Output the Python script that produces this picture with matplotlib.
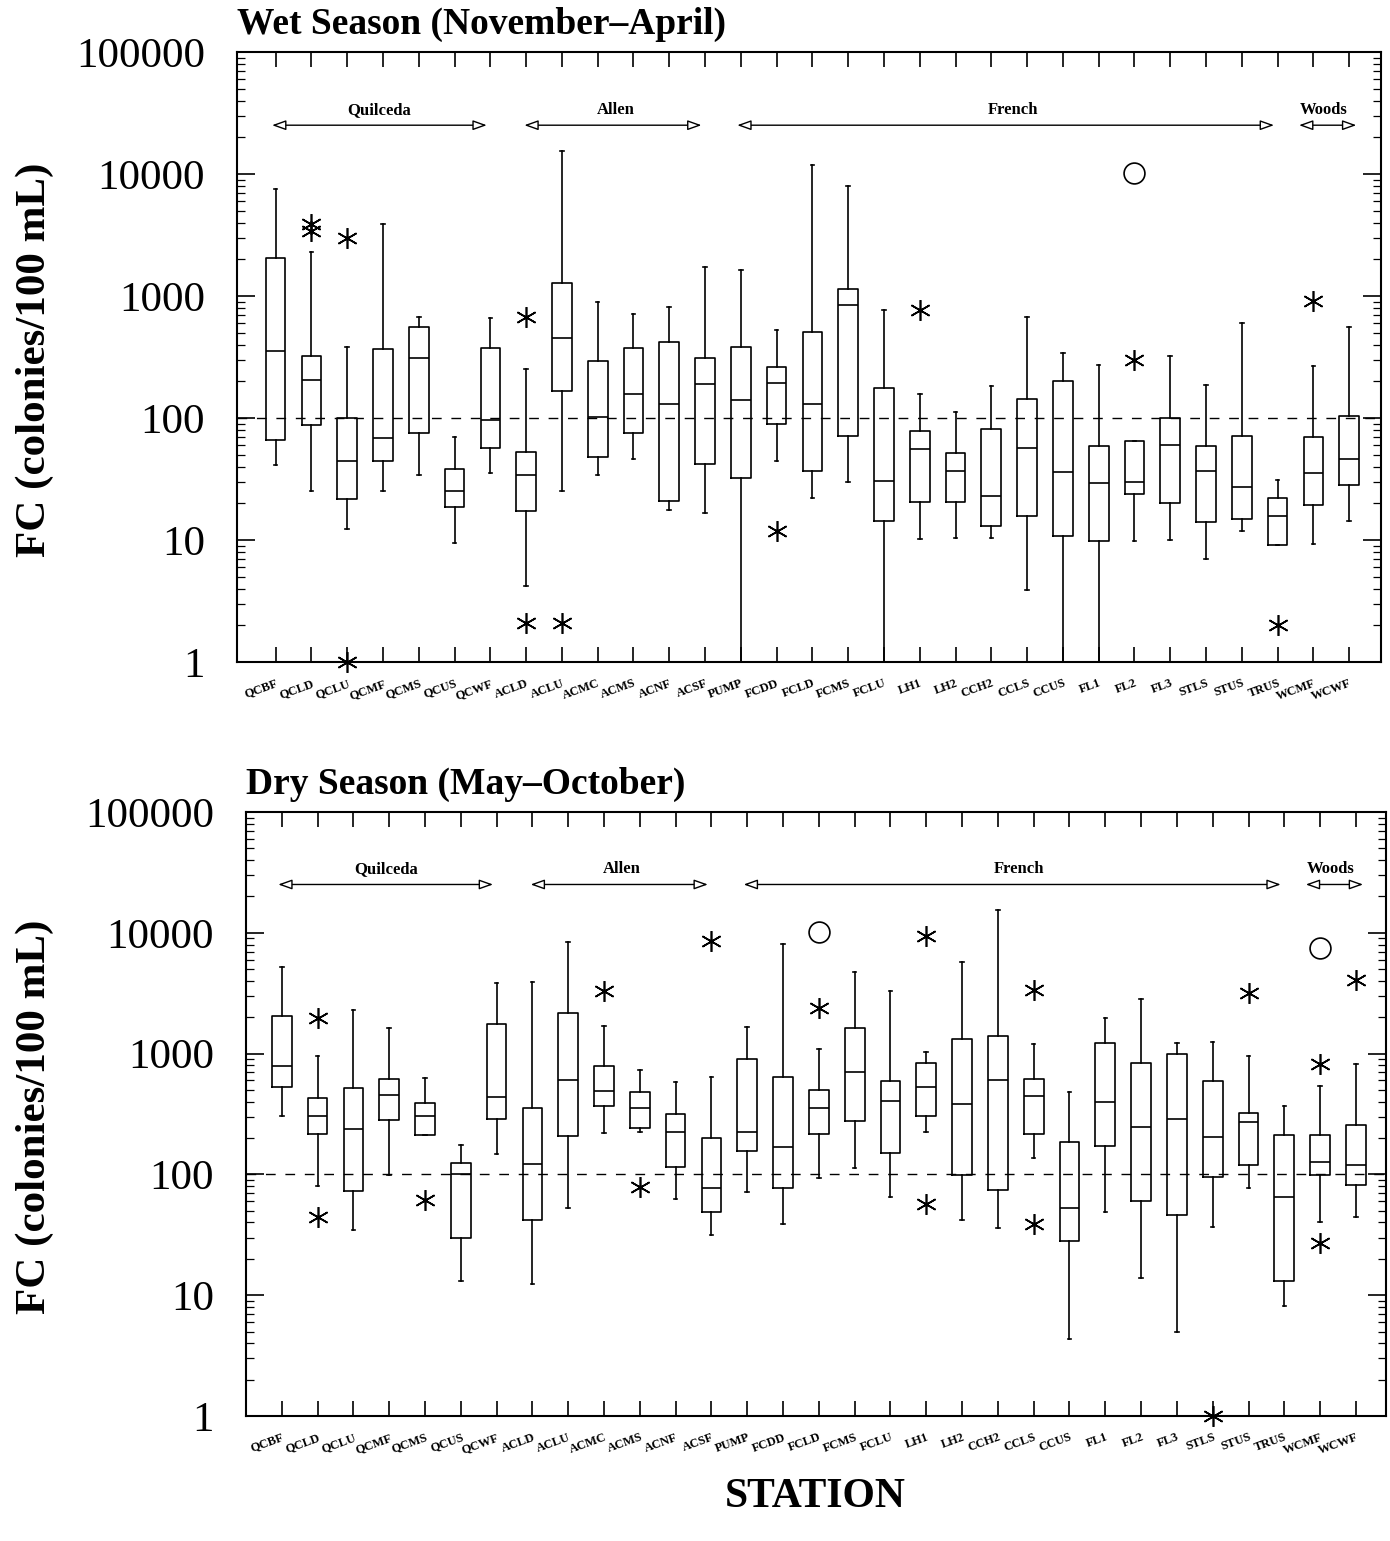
import numpy as np
import matplotlib
matplotlib.use("Agg")
import matplotlib.pyplot as plt
from matplotlib.ticker import NullFormatter

plt.rcParams["font.family"] = "Liberation Serif"

stations = ["QCBF", "QCLD", "QCLU", "QCMF", "QCMS", "QCUS", "QCWF",
            "ACLD", "ACLU", "ACMC", "ACMS", "ACNF", "ACSF", "PUMP",
            "FCDD", "FCLD", "FCMS", "FCLU", "LH1", "LH2", "CCH2", "CCLS",
            "CCUS", "FL1", "FL2", "FL3", "STLS", "STUS", "TRUS", "WCMF", "WCWF"]

# wet season (Nov-Apr) box summaries
wet_lo = [41, 25, 12.3, 25.4, 34, 9.4, 35.6, 4.2, 25.4, 34, 46, 17.5, 16.8, 1, 44.5, 22,
          30, 1, 10.2, 10.4, 10.4, 3.9, 1, 1, 9.9, 10, 7, 11.8, 9.1, 9.3, 14.4]
wet_q1 = [66, 88, 21.7, 44, 75, 18.5, 57, 17.4, 167, 48, 76, 21, 42, 32, 90, 36.5,
          71, 14.2, 20.3, 20.5, 13, 15.7, 10.8, 9.9, 24, 20, 14, 15, 9.1, 19.4, 28]
wet_med = [352, 205, 44, 68, 310, 25.4, 96, 34, 454, 101, 156, 131, 189, 140, 194, 131,
           837, 30.7, 56, 37, 23, 57, 36, 29.5, 30, 60, 36.5, 27, 15.6, 35.7, 46.5]
wet_q3 = [2050, 325, 100, 370, 556, 38, 375, 53, 1274, 295, 374, 422, 310, 383, 263, 510,
          1150, 175, 78, 52, 81, 144, 200, 59, 65, 100, 59, 71, 22, 70.5, 104]
wet_hi = [7600, 2280, 382, 3870, 675, 70, 665, 253, 15400, 900, 712, 810, 1745, 1620, 527, 11750,
          8030, 770, 156, 112, 182, 672, 338, 271, 65, 321, 185, 606, 31.3, 269, 556]
wet_stars = {"QCLD": [3400, 3900], "QCLU": [3000, 1], "ACLD": [675, 2.1], "ACLU": [2.1],
             "FCDD": [11.8], "LH1": [775], "FL2": [301], "TRUS": [2.0], "WCMF": [913]}
wet_circles = {"FL2": [10200]}

# dry season (May-Oct)
dry_lo = [302, 80, 34.5, 98, 212, 13, 147, 12.4, 53, 221, 224, 62.5, 31.3, 71, 39, 93,
          113, 64.6, 224, 42, 36, 136, 4.3, 48.5, 13.8, 5.0, 36.4, 77, 8.1, 40, 44.7]
dry_q1 = [528, 215, 73, 282, 212, 29.7, 288, 41.7, 207, 366, 243, 115, 49, 157, 77.6, 216,
          275, 149, 304, 98.6, 74, 218, 28.3, 173, 60, 46, 95, 120, 13, 98, 81]
dry_med = [785, 302, 238, 455, 302, 101, 436, 122, 610, 487, 356, 224, 77.6, 224, 168, 353,
           703, 402, 525, 386, 600, 446, 53, 397, 246, 288, 203, 273, 65, 127, 119]
dry_q3 = [2040, 430, 521, 618, 392, 124, 1750, 353, 2180, 795, 483, 319, 202, 906, 636, 500,
          1618, 593, 830, 1318, 1400, 617, 184, 1222, 830, 983, 597, 324, 212, 212, 255]
dry_hi = [5220, 950, 2300, 1630, 630, 175, 3845, 3950, 8430, 1700, 738, 581, 635, 1650, 8040, 1090,
          4720, 3310, 1025, 5710, 15500, 1205, 477, 1973, 2810, 1222, 1240, 950, 365, 540, 824]
dry_stars = {"QCLD": [1970, 44.7], "QCMS": [61], "ACMC": [3290], "ACMS": [78], "ACSF": [8500],
             "FCLD": [2390], "LH1": [9340, 57], "CCLS": [3390, 39], "STLS": [1],
             "STUS": [3180], "WCMF": [813, 26.8], "WCWF": [4040]}
dry_circles = {"FCLD": [10250], "WCMF": [7500]}

# river groups: name, first station, last station, label x
groups = [("Quilceda", 0.9, 6.9, 3.9), ("Allen", 7.95, 12.9, 10.5),
          ("French", 13.9, 28.9, 21.6), ("Woods", 29.6, 31.2, 30.3)]

W, H = 1390, 1541
fig = plt.figure(figsize=(W / 100, H / 100), dpi=100)
ax1 = fig.add_axes([237 / W, 1 - 662 / H, 1144 / W, 610 / H])
ax2 = fig.add_axes([246 / W, 1 - 1416 / H, 1140 / W, 604 / H])


def panel(ax, lo, q1, med, q3, hi, stars, circles, title, xlim):
    pos = np.arange(1, len(stations) + 1)
    stats = []
    for i in range(len(stations)):
        stats.append(dict(whislo=lo[i], q1=q1[i], med=med[i], q3=q3[i],
                          whishi=hi[i], fliers=[]))
    ax.set_yscale("log")
    ax.axhline(100, color="black", lw=1.0, ls=(0, (7, 7)), zorder=1)
    ax.bxp(stats, positions=pos, widths=0.55, capwidths=0.1, showfliers=False,
           boxprops=dict(color="black", lw=1.2),
           medianprops=dict(color="black", lw=1.2),
           whiskerprops=dict(color="black", lw=1.2),
           capprops=dict(color="black", lw=1.2))
    for name, vals in stars.items():
        x = stations.index(name) + 1
        ax.plot([x] * len(vals), vals, ls="none", marker=(6, 2, 0), ms=15,
                mew=1.2, color="black", clip_on=False, zorder=5)
    for name, vals in circles.items():
        x = stations.index(name) + 1
        ax.plot([x] * len(vals), vals, ls="none", marker="o", ms=15, mew=1.2,
                mfc="none", mec="black", clip_on=False, zorder=5)

    for name, x0, x1, xt in groups:
        ax.annotate("", xy=(x0, 0.88), xytext=(x1, 0.88),
                    xycoords=ax.get_xaxis_transform(),
                    arrowprops=dict(arrowstyle="<|-|>,head_length=0.7,head_width=0.25",
                                    fc="white", ec="black", lw=1.0,
                                    mutation_scale=12, shrinkA=0, shrinkB=0))
        ax.text(xt, 0.905, name, transform=ax.get_xaxis_transform(),
                ha="center", va="center", fontsize=12, fontweight="bold")

    ax.set_xlim(*xlim)
    ax.set_ylim(1, 1e5)
    ax.set_yticks([1, 10, 100, 1000, 10000, 100000])
    ax.set_yticklabels(["1", "10", "100", "1000", "10000", "100000"], fontsize=31)
    ax.yaxis.set_minor_formatter(NullFormatter())
    ax.tick_params(axis="y", which="major", direction="in", length=13, width=1.2,
                   right=True, pad=23)
    ax.tick_params(axis="y", which="minor", direction="in", length=6, width=0.9,
                   right=True)
    ax.set_xticks(pos)
    ax.set_xticklabels(stations, rotation=20, ha="right", rotation_mode="anchor",
                       fontsize=9, fontweight="bold")
    ax.tick_params(axis="x", direction="in", length=11, width=1.2, top=True, pad=11)
    for s in ax.spines.values():
        s.set_linewidth(1.5)
    ax.text(0, 1.017, title, transform=ax.transAxes, ha="left", va="bottom",
            fontsize=27, fontweight="bold")


panel(ax1, wet_lo, wet_q1, wet_med, wet_q3, wet_hi, wet_stars, wet_circles,
      "Wet Season (November\u2013April)", (-0.08, 31.89))
panel(ax2, dry_lo, dry_q1, dry_med, dry_q3, dry_hi, dry_stars, dry_circles,
      "Dry Season (May\u2013October)", (0.0, 31.84))

fig.text(35 / W, 1 - 360 / H, "FC (colonies/100 mL)", rotation=90, ha="center",
         va="center", fontsize=31, fontweight="bold")
fig.text(35 / W, 1 - 1117 / H, "FC (colonies/100 mL)", rotation=90, ha="center",
         va="center", fontsize=31, fontweight="bold")
fig.text(815 / W, 1 - 1497 / H, "STATION", ha="center", va="center",
         fontsize=30, fontweight="bold")

fig.savefig("out.png", dpi=100)
